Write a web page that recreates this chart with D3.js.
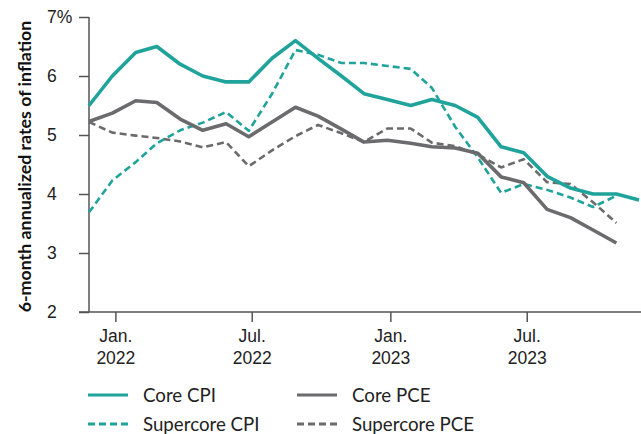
<!DOCTYPE html>
<html>
<head>
<meta charset="utf-8">
<script src="https://cdn.jsdelivr.net/npm/d3@7"></script>
<style>
    body { margin: 0; background: #fff; }
    svg { display: block; font-family: Lato, 'Open Sans', sans-serif; }
</style>
</head>
<body>
<svg></svg>
<script>
/**
 * Data.
 */
const months = [
    '2021-12', '2022-01', '2022-02', '2022-03', '2022-04', '2022-05', '2022-06',
    '2022-07', '2022-08', '2022-09', '2022-10', '2022-11', '2022-12', '2023-01',
    '2023-02', '2023-03', '2023-04', '2023-05', '2023-06', '2023-07', '2023-08',
    '2023-09', '2023-10', '2023-11', '2023-12'
];
const coreCPI = [5.5, 6.0, 6.4, 6.5, 6.2, 6.0, 5.9, 5.9, 6.3, 6.6, 6.3, 6.0, 5.7, 5.6, 5.5, 5.6, 5.5, 5.3, 4.8, 4.7, 4.3, 4.1, 4.0, 4.0, 3.9];
const corePCE = [5.23, 5.37, 5.58, 5.55, 5.27, 5.08, 5.19, 4.97, 5.22, 5.47, 5.32, 5.1, 4.88, 4.91, 4.86, 4.8, 4.78, 4.69, 4.29, 4.19, 3.74, 3.6, 3.39, 3.17];
const supercoreCPI = [3.69, 4.23, 4.54, 4.86, 5.08, 5.21, 5.39, 5.07, 5.7, 6.44, 6.36, 6.22, 6.22, 6.17, 6.12, 5.8, 5.14, 4.62, 4.02, 4.17, 4.07, 3.94, 3.78, 3.97];
const supercorePCE = [5.22, 5.04, 4.99, 4.95, 4.89, 4.79, 4.88, 4.47, 4.74, 4.98, 5.17, 5.03, 4.88, 5.11, 5.11, 4.87, 4.81, 4.67, 4.45, 4.59, 4.2, 4.17, 3.86, 3.51];
const yTicks = [2, 3, 4, 5, 6, 7];
const xTicks = ['2022-01', '2022-07', '2023-01', '2023-07'];
const monthNames = ['Jan.', 'Feb.', 'Mar.', 'Apr.', 'May', 'Jun.', 'Jul.', 'Aug.', 'Sep.', 'Oct.', 'Nov.', 'Dec.'];

const teal = '#1fa39a';
const grey = '#6b6b6e';
const axisColor = '#555558';

const series = [
    { name: 'Core CPI', values: coreCPI, color: teal, dash: null },
    { name: 'Core PCE', values: corePCE, color: grey, dash: null },
    { name: 'Supercore CPI', values: supercoreCPI, color: teal, dash: '7,4' },
    { name: 'Supercore PCE', values: supercorePCE, color: grey, dash: '7,4' }
];

/**
 * Set stuff up.
 */
const width = 641;
const height = 434;
const svg = d3.select('svg')
    .attr('width', width)
    .attr('height', height);

const parse = d3.timeParse('%Y-%m');
const dates = months.map(parse);

const x = d3.scaleTime()
    .domain([dates[0], dates[dates.length - 1]])
    .range([89, 639]);
const y = d3.scaleLinear()
    .domain([2, 7])
    .range([312, 17]);

// ticks sit a touch right of the month start in the original
const tickShift = 3;

/**
 * Axes.
 */
const yAxis = svg.append('g')
    .attr('transform', 'translate(89,0)')
    .call(d3.axisLeft(y)
        .tickValues(yTicks)
        .tickSize(10)
        .tickPadding(0)
        .tickFormat(d => d === 7 ? '7%' : d));
yAxis.select('.domain').remove();
yAxis.selectAll('.tick line').attr('stroke', axisColor).attr('stroke-width', 1.5);
yAxis.selectAll('.tick text')
    .attr('x', -42)
    .attr('text-anchor', 'start')
    .attr('fill', '#222')
    .style('font-size', '17.5px');

svg.append('line')
    .attr('x1', 89).attr('x2', 89)
    .attr('y1', y(7)).attr('y2', y(2))
    .attr('stroke', axisColor)
    .attr('stroke-width', 1.5);

const xAxis = svg.append('g')
    .attr('transform', `translate(${tickShift},312)`)
    .call(d3.axisBottom(x)
        .tickValues(xTicks.map(parse))
        .tickSize(10)
        .tickFormat(''));
xAxis.select('.domain').remove();
xAxis.selectAll('.tick line').attr('stroke', axisColor).attr('stroke-width', 1.5);

xAxis.selectAll('.tick')
    .append('text')
    .attr('fill', '#222')
    .attr('text-anchor', 'middle')
    .style('font-size', '17.5px')
    .each(function (d) {
        const t = d3.select(this);
        t.append('tspan').attr('x', 0).attr('y', 30).text(monthNames[d.getMonth()]);
        t.append('tspan').attr('x', 0).attr('y', 52).text(d.getFullYear());
    });

svg.append('line')
    .attr('x1', 79).attr('x2', width)
    .attr('y1', 312).attr('y2', 312)
    .attr('stroke', axisColor)
    .attr('stroke-width', 1.5);

svg.append('text')
    .attr('transform', `translate(31,${(y(7) + y(2)) / 2 + 2}) rotate(-90)`)
    .attr('text-anchor', 'middle')
    .attr('fill', '#111')
    .style('font-size', '17.8px')
    .style('font-weight', 'bold')
    .text('6-month annualized rates of inflation');

/**
 * Lines.
 */
const line = d3.line()
    .x((d, i) => x(dates[i]))
    .y(d => y(d));

svg.append('g')
    .selectAll('path')
    .data(series.slice().reverse())
    .enter()
    .append('path')
    .attr('d', d => line(d.values))
    .attr('fill', 'none')
    .attr('stroke', d => d.color)
    .attr('stroke-width', d => d.dash ? 2.6 : 3.6)
    .attr('stroke-dasharray', d => d.dash)
    .attr('stroke-linejoin', 'round');

/**
 * Legend.
 */
const legend = svg.append('g')
    .selectAll('g')
    .data(series)
    .enter()
    .append('g')
    .attr('transform', (d, i) => `translate(${i % 2 ? 297 : 88},${i < 2 ? 395 : 424})`);

legend.append('line')
    .attr('x1', 0).attr('x2', 40)
    .attr('stroke', d => d.color)
    .attr('stroke-width', 3)
    .attr('stroke-dasharray', d => d.dash ? '7,4' : null);

legend.append('text')
    .attr('x', 55)
    .attr('y', 6.5)
    .attr('fill', '#222')
    .style('font-size', '18.7px')
    .text(d => d.name);
</script>
</body>
</html>
